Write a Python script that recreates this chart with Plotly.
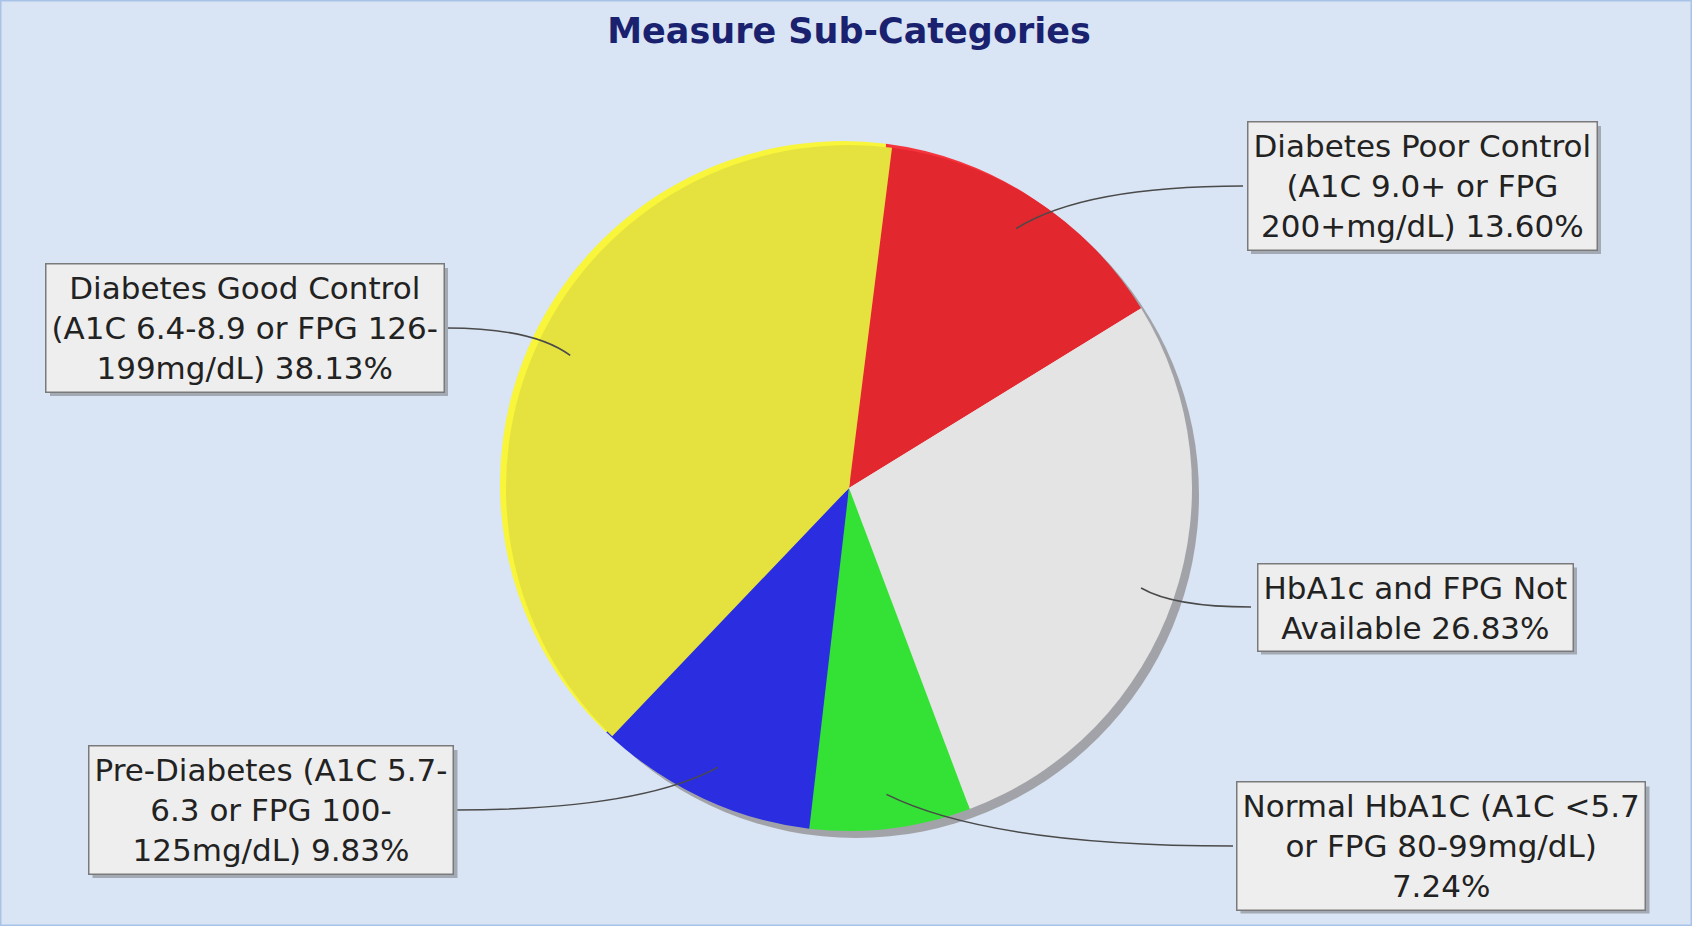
import math
import plotly.graph_objects as go

# slice data, in drawing order (clockwise from just right of 12 o'clock)
categories = [
    "Diabetes Poor Control (A1C 9.0+ or FPG 200+mg/dL)",
    "HbA1c and FPG Not Available",
    "Normal HbA1C (A1C <5.7 or FPG 80-99mg/dL)",
    "Pre-Diabetes (A1C 5.7-6.3 or FPG 100-125mg/dL)",
    "Diabetes Good Control (A1C 6.4-8.9 or FPG 126-199mg/dL)",
]
percents = [13.60, 26.83, 7.24, 9.83, 38.13]
box_texts = [
    "Diabetes Poor Control<br>(A1C 9.0+ or FPG<br>200+mg/dL) 13.60%",
    "HbA1c and FPG Not<br>Available 26.83%",
    "Normal HbA1C (A1C &lt;5.7<br>or FPG 80-99mg/dL)<br>7.24%",
    "Pre-Diabetes (A1C 5.7-<br>6.3 or FPG 100-<br>125mg/dL) 9.83%",
    "Diabetes Good Control<br>(A1C 6.4-8.9 or FPG 126-<br>199mg/dL) 38.13%",
]
colors = ["#E3272F", "#E4E4E4", "#34E236", "#2A2EE0", "#E5E23F"]
rim_colors = ["#F5353D", "#E4E4E4", "#34E236", "#2A2EE0", "#F8F53A"]

# layout (pixels)
W, H = 1692, 926
CX, CY, R = 849, 488, 343
ROTATION = 7.2
# label box centres, approximate box sizes (for the drop shadow) and the
# point on the box edge where the leader starts
box_pos = [(1422, 186), (1415, 607), (1441, 846), (271, 810), (245, 328)]
box_size = [(350, 128), (316, 87), (409, 127), (365, 128), (398, 128)]
attach = [(1243, 186), (1251, 607), (1233, 846), (455, 810), (447, 328)]


def px(x, y):
    return x / W, 1 - y / H


def domain(dx=0, dy=0):
    return dict(
        x=[(CX - R + dx) / W, (CX + R + dx) / W],
        y=[1 - (CY + R + dy) / H, 1 - (CY - R + dy) / H],
    )


fig = go.Figure()

# drop shadow behind the pie
fig.add_trace(go.Pie(
    values=[1], labels=["shadow"], domain=domain(7, 7), sort=False,
    marker=dict(colors=["#A2A3A8"], line=dict(width=0)),
    textinfo="none", hoverinfo="skip", showlegend=False,
))
# lighter rim on the upper-left edge
fig.add_trace(go.Pie(
    values=percents, labels=categories, domain=domain(-6, -4), sort=False,
    direction="clockwise", rotation=ROTATION,
    marker=dict(colors=rim_colors, line=dict(width=0)),
    textinfo="none", hoverinfo="skip", showlegend=False,
))
fig.add_trace(go.Pie(
    values=percents, labels=categories, domain=domain(), sort=False,
    direction="clockwise", rotation=ROTATION,
    marker=dict(colors=colors, line=dict(width=0)),
    textinfo="none", textposition="none", showlegend=False,
    hovertemplate="%{label}<extra></extra>",
))

# leader lines: from box edge to a point at 0.9R on each slice's mid-angle
total = sum(percents)
cum = 0
shapes = []
for i, v in enumerate(percents):
    mid = math.radians(ROTATION + 360 * (cum + v / 2) / total)
    cum += v
    ex = CX + 0.9 * R * math.sin(mid)
    ey = CY - 0.9 * R * math.cos(mid)
    sx, sy = attach[i]
    qx = ex + 0.3 * (sx - ex)
    qy = sy
    p0, p1, p2 = px(sx, sy), px(qx, qy), px(ex, ey)
    shapes.append(dict(
        type="path", xref="paper", yref="paper",
        path=f"M {p0[0]},{p0[1]} Q {p1[0]},{p1[1]} {p2[0]},{p2[1]}",
        line=dict(color="#4A4A4A", width=1.5),
    ))

# soft shadows under the label boxes
for (bx, by), (bw, bh) in zip(box_pos, box_size):
    x0, y0 = px(bx - bw / 2 + 4, by + bh / 2 + 4)
    x1, y1 = px(bx + bw / 2 + 4, by - bh / 2 + 4)
    shapes.append(dict(type="rect", xref="paper", yref="paper",
                       x0=x0, y0=y0, x1=x1, y1=y1,
                       fillcolor="#A3AAB4", line=dict(width=0), layer="above"))

# thin frame around the chart
shapes.append(dict(type="rect", xref="paper", yref="paper", x0=0, y0=0, x1=1, y1=1,
                   line=dict(color="#A9C3E8", width=3)))

annotations = []
for (bx, by), t in zip(box_pos, box_texts):
    ax, ay = px(bx, by)
    annotations.append(dict(
        x=ax, y=ay, xref="paper", yref="paper", text=t, showarrow=False,
        xanchor="center", yanchor="middle",
        font=dict(family="DejaVu Sans", size=31, color="#222222"),
        bgcolor="#EEEEEE", borderpad=5, borderwidth=1.5, bordercolor="#7A7A7A",
    ))

fig.update_layout(
    width=W, height=H,
    margin=dict(l=0, r=0, t=0, b=0),
    paper_bgcolor="#D9E5F4",
    plot_bgcolor="#D9E5F4",
    title=dict(
        text="<b>Measure Sub-Categories</b>",
        x=CX / W, xanchor="center", y=1 - 31 / H, yanchor="middle",
        font=dict(family="DejaVu Sans", size=35, color="#1A2270"),
    ),
    shapes=shapes,
    annotations=annotations,
    showlegend=False,
)

# drop the page's default body margin so the figure fills the window
fig.write_html(
    "out.html",
    config={"displayModeBar": False},
    post_script="document.body.style.margin='0';document.body.style.overflow='hidden';",
)
